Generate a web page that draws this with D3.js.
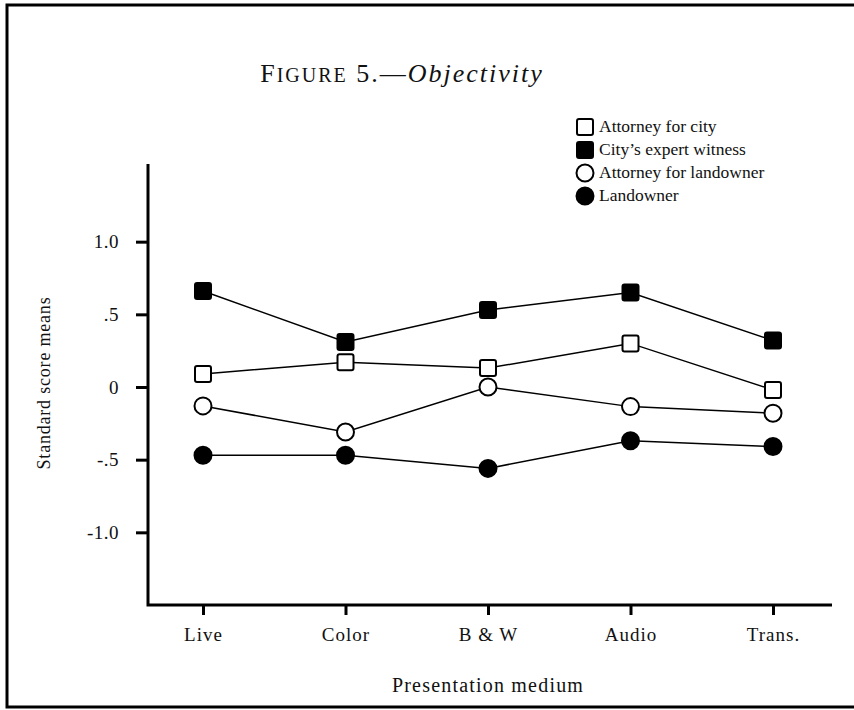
<!DOCTYPE html>
<html>
<head>
<meta charset="utf-8">
<script src="https://cdn.jsdelivr.net/npm/d3@7"></script>
<style>
  body { margin: 0; background: #fff; }
  text { font-family: "Liberation Serif", "DejaVu Serif", serif; fill: #111; }
</style>
</head>
<body>
<svg></svg>
<script>
// canvas size
let width = 854
let height = 710

// data
const media = ['Live', 'Color', 'B & W', 'Audio', 'Trans.']
const yTicks = [1.0, 0.5, 0, -0.5, -1.0]
const yTickLabels = ['1.0', '.5', '0', '-.5', '-1.0']

const attorneyCity = [0.09, 0.17, 0.13, 0.30, -0.02]
const cityExpert = [0.66, 0.31, 0.53, 0.65, 0.32]
const attorneyLand = [-0.13, -0.31, 0.00, -0.135, -0.18]
const landowner = [-0.47, -0.47, -0.56, -0.37, -0.41]

const seriesNames = ['Attorney for city', 'City\u2019s expert witness', 'Attorney for landowner', 'Landowner']

let series = [
    {name: seriesNames[0], values: attorneyCity, shape: 'square', fill: '#fff'},
    {name: seriesNames[1], values: cityExpert, shape: 'square', fill: '#000'},
    {name: seriesNames[2], values: attorneyLand, shape: 'circle', fill: '#fff'},
    {name: seriesNames[3], values: landowner, shape: 'circle', fill: '#000'}
]

let svg = d3.select('svg')
    .attr('width', width)
    .attr('height', height)

// frame (left, top, bottom edges of the scanned page box)
svg.append('path')
    .attr('d', 'M854,5 H7 V707 H854')
    .attr('fill', 'none')
    .attr('stroke', '#000')
    .attr('stroke-width', 3)

// scales
let xScale = d3.scalePoint()
    .domain(media)
    .range([203, 773])

let yScale = d3.scaleLinear()
    .domain([-1.5, 1.5])
    .range([605, 169])

// axes
let yAxis = d3.axisLeft(yScale)
    .tickValues(yTicks)
    .tickFormat((d, i) => yTickLabels[i])
    .tickSize(12)
    .tickPadding(17)

let yg = svg.append('g')
    .attr('transform', 'translate(148,0)')
    .call(yAxis)
yg.select('.domain').remove()
yg.selectAll('line').attr('stroke', '#000').attr('stroke-width', 3)
yg.selectAll('text')
    .style('font-size', '19px')
    .style('letter-spacing', '0.5px')
    .style('font-family', '"Liberation Serif", serif')

let xAxis = d3.axisBottom(xScale)
    .tickSize(10)
    .tickPadding(13)

let xg = svg.append('g')
    .attr('transform', 'translate(0,605)')
    .call(xAxis)
xg.select('.domain').remove()
xg.selectAll('line').attr('stroke', '#000').attr('stroke-width', 3)
xg.selectAll('text')
    .style('font-size', '19px')
    .style('letter-spacing', '1px')
    .style('font-family', '"Liberation Serif", serif')

// axis lines
svg.append('path')
    .attr('d', 'M148,164 V605 H832')
    .attr('fill', 'none')
    .attr('stroke', '#000')
    .attr('stroke-width', 3)

// lines
let line = d3.line()
    .x((d, i) => xScale(media[i]))
    .y(d => yScale(d))

series.forEach(s => {
    svg.append('path')
        .datum(s.values)
        .attr('d', line)
        .attr('fill', 'none')
        .attr('stroke', '#000')
        .attr('stroke-width', 1.5)
})

// markers
let drawMarker = (g, shape, fill, x, y) => {
    if (shape === 'square') {
        g.append('rect')
            .attr('x', x - 8)
            .attr('y', y - 8)
            .attr('width', 16)
            .attr('height', 16)
            .attr('rx', 2)
            .attr('fill', fill)
            .attr('stroke', '#000')
            .attr('stroke-width', 2)
    } else {
        g.append('circle')
            .attr('cx', x)
            .attr('cy', y)
            .attr('r', 8.5)
            .attr('fill', fill)
            .attr('stroke', '#000')
            .attr('stroke-width', 2)
    }
}

series.forEach(s => {
    let g = svg.append('g')
    s.values.forEach((v, i) => drawMarker(g, s.shape, s.fill, xScale(media[i]), yScale(v)))
})

// legend
let legendY = [127, 150, 173, 196]
series.forEach((s, i) => {
    let g = svg.append('g')
    drawMarker(g, s.shape, s.fill, 585, legendY[i])
    g.append('text')
        .attr('x', 599)
        .attr('y', legendY[i] + 5)
        .style('font-size', '17.5px')
        .text(s.name)
})

// title
let title = svg.append('text')
    .attr('x', 402)
    .attr('y', 82)
    .attr('text-anchor', 'middle')
    .style('font-size', '26px')
    .style('letter-spacing', '2px')
title.append('tspan').text('F')
title.append('tspan').style('font-size', '20px').text('IGURE')
title.append('tspan').text(' 5.\u2014')
title.append('tspan').style('font-style', 'italic').text('Objectivity')

// axis titles
svg.append('text')
    .attr('transform', 'translate(50,383) rotate(-90)')
    .attr('text-anchor', 'middle')
    .style('font-size', '18px')
    .style('letter-spacing', '0.8px')
    .text('Standard score means')

svg.append('text')
    .attr('x', 488)
    .attr('y', 692)
    .attr('text-anchor', 'middle')
    .style('font-size', '20px')
    .style('letter-spacing', '1.2px')
    .text('Presentation medium')
</script>
</body>
</html>
